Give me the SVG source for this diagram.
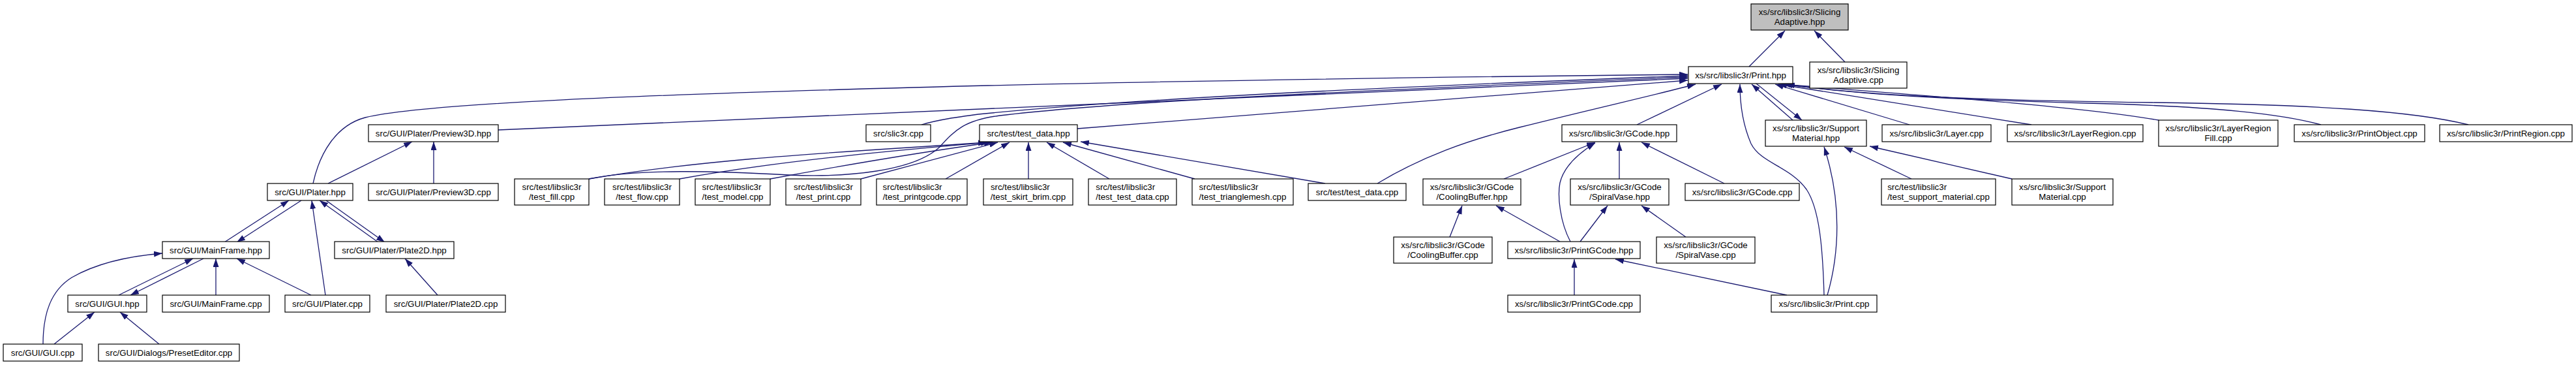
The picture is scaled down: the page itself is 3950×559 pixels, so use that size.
<svg xmlns="http://www.w3.org/2000/svg" width="3950" height="559" viewBox="0 0 3950 559">
<defs>
<style>
.n rect{fill:#ffffff;stroke:#000000;stroke-width:1.2}
.g rect{fill:#bfbfbf}
text{font-family:"Liberation Sans",Arial,sans-serif;font-size:13.3px;fill:#000000;text-anchor:middle}
text.l{text-anchor:start}
.e path{fill:none;stroke:#191970;stroke-width:1.3;marker-end:url(#a)}
</style>
<marker id="a" markerUnits="userSpaceOnUse" markerWidth="14" markerHeight="10" refX="13" refY="4.5" orient="auto">
<path d="M0,0 L13,4.5 L0,9 z" fill="#191970"/>
</marker>
</defs>
<rect width="3950" height="559" fill="#ffffff"/>
<g id="edges" class="e">
<path d="M2682,102 L2737,47"/>
<path d="M2829,95 L2782,47"/>
<path d="M480,281 C490,235 515,192 560,180 C650,158 1000,145 1400,134 S2300,117 2588,114"/>
<path d="M764,199 L2588,120"/>
<path d="M1413,191 C1440,183 1470,179 1500,175 C1700,155 2000,138 2588,116"/>
<path d="M903,274 C980,258 1100,262 1210,268 C1300,272 1400,262 1440,226 C1465,198 1480,184 1533,177 C1700,157 2000,142 2588,118"/>
<path d="M1652,197 L2588,123"/>
<path d="M2112,281 C2180,240 2250,215 2330,195 C2450,165 2540,145 2600,129"/>
<path d="M2510,191 L2640,129"/>
<path d="M2797,452 C2795,380 2790,320 2770,290 C2745,255 2700,250 2685,220 C2672,190 2668,160 2668,129"/>
<path d="M2749,184 L2686,129"/>
<path d="M2693,128 L2763,184"/>
<path d="M2928,191 L2722,129"/>
<path d="M3115,191 L2727,129"/>
<path d="M3310,184 C3200,165 3000,150 2733,129"/>
<path d="M3559,191 C3500,175 3400,163 3200,158 C3000,153 2850,145 2736,129"/>
<path d="M3785,191 C3700,170 3550,160 3300,157 C3000,153 2850,145 2739,129"/>
<path d="M2306,274 L2446,218"/>
<path d="M2408,370 C2392,340 2388,300 2392,280 C2398,255 2420,235 2446,219"/>
<path d="M2483,274 L2483,218"/>
<path d="M2644,281 L2517,218"/>
<path d="M2223,363 L2242,315"/>
<path d="M2392,370 L2294,315"/>
<path d="M2423,370 L2465,315"/>
<path d="M2585,363 L2517,315"/>
<path d="M2414,452 L2414,397"/>
<path d="M2740,452 L2477,397"/>
<path d="M2802,452 C2820,390 2825,310 2797,225"/>
<path d="M2931,274 L2828,225"/>
<path d="M3085,274 L2867,224"/>
<path d="M903,274 C1100,240 1350,230 1513,218"/>
<path d="M1042,274 C1200,245 1400,228 1517,218"/>
<path d="M1181,274 C1300,252 1420,232 1522,218"/>
<path d="M1320,274 L1530,218"/>
<path d="M1450,274 L1548,218"/>
<path d="M1577,274 L1577,218"/>
<path d="M1701,274 L1605,218"/>
<path d="M1832,274 L1630,218"/>
<path d="M2032,281 L1657,217"/>
<path d="M503,281 L632,217"/>
<path d="M665,281 L665,217"/>
<path d="M344,371 L443,307"/>
<path d="M462,307 L363,371"/>
<path d="M499,452 L478,307"/>
<path d="M580,371 L490,307"/>
<path d="M500,307 L590,371"/>
<path d="M671,452 L621,396"/>
<path d="M182,452 L296,396"/>
<path d="M312,396 L200,452"/>
<path d="M331,452 L331,396"/>
<path d="M477,452 L363,396"/>
<path d="M66,527 C66,480 78,445 110,425 C150,402 200,392 249,388"/>
<path d="M83,527 L145,478"/>
<path d="M244,527 L184,478"/>
</g>
<g id="n_slicingadaptive_hpp" class="n g"><rect x="2685" y="6" width="149" height="40"/><text x="2759.5" y="23">xs/src/libslic3r/Slicing</text><text x="2759.5" y="38">Adaptive.hpp</text></g>
<g id="n_print_hpp" class="n"><rect x="2589" y="102" width="160" height="26"/><text x="2669" y="119.5">xs/src/libslic3r/Print.hpp</text></g>
<g id="n_slicingadaptive_cpp" class="n"><rect x="2775" y="95" width="149" height="40"/><text x="2849.5" y="112">xs/src/libslic3r/Slicing</text><text x="2849.5" y="127">Adaptive.cpp</text></g>
<g id="n_preview3d_hpp" class="n"><rect x="565" y="191" width="199" height="26"/><text x="664.5" y="208.5">src/GUI/Plater/Preview3D.hpp</text></g>
<g id="n_slic3r_cpp" class="n"><rect x="1328" y="191" width="99" height="26"/><text x="1377.5" y="208.5">src/slic3r.cpp</text></g>
<g id="n_test_data_hpp" class="n"><rect x="1502" y="191" width="150" height="26"/><text x="1577" y="208.5">src/test/test_data.hpp</text></g>
<g id="n_gcode_hpp" class="n"><rect x="2395" y="191" width="176" height="26"/><text x="2483" y="208.5">xs/src/libslic3r/GCode.hpp</text></g>
<g id="n_supportmaterial_hpp" class="n"><rect x="2707" y="184" width="155" height="40"/><text x="2784.5" y="201">xs/src/libslic3r/Support</text><text x="2784.5" y="216">Material.hpp</text></g>
<g id="n_layer_cpp" class="n"><rect x="2886" y="191" width="167" height="26"/><text x="2969.5" y="208.5">xs/src/libslic3r/Layer.cpp</text></g>
<g id="n_layerregion_cpp" class="n"><rect x="3078" y="191" width="208" height="26"/><text x="3182" y="208.5">xs/src/libslic3r/LayerRegion.cpp</text></g>
<g id="n_layerregionfill_cpp" class="n"><rect x="3310" y="184" width="183" height="40"/><text x="3401.5" y="201">xs/src/libslic3r/LayerRegion</text><text x="3401.5" y="216">Fill.cpp</text></g>
<g id="n_printobject_cpp" class="n"><rect x="3518" y="191" width="200" height="26"/><text x="3618" y="208.5">xs/src/libslic3r/PrintObject.cpp</text></g>
<g id="n_printregion_cpp" class="n"><rect x="3741" y="191" width="203" height="26"/><text x="3842.5" y="208.5">xs/src/libslic3r/PrintRegion.cpp</text></g>
<g id="n_plater_hpp" class="n"><rect x="410" y="281" width="131" height="26"/><text x="475.5" y="298.5">src/GUI/Plater.hpp</text></g>
<g id="n_preview3d_cpp" class="n"><rect x="565" y="281" width="199" height="26"/><text x="664.5" y="298.5">src/GUI/Plater/Preview3D.cpp</text></g>
<g id="n_test_fill_cpp" class="n"><rect x="789" y="274" width="114" height="40"/><text x="846" y="291">src/test/libslic3r</text><text x="846" y="306">/test_fill.cpp</text></g>
<g id="n_test_flow_cpp" class="n"><rect x="927" y="274" width="115" height="40"/><text x="984.5" y="291">src/test/libslic3r</text><text x="984.5" y="306">/test_flow.cpp</text></g>
<g id="n_test_model_cpp" class="n"><rect x="1066" y="274" width="115" height="40"/><text class="l" x="1076.5" y="291">src/test/libslic3r</text><text x="1123.5" y="306">/test_model.cpp</text></g>
<g id="n_test_print_cpp" class="n"><rect x="1205" y="274" width="115" height="40"/><text x="1262.5" y="291">src/test/libslic3r</text><text x="1262.5" y="306">/test_print.cpp</text></g>
<g id="n_test_printgcode_cpp" class="n"><rect x="1344" y="274" width="139" height="40"/><text class="l" x="1353.6" y="291">src/test/libslic3r</text><text x="1413.5" y="306">/test_printgcode.cpp</text></g>
<g id="n_test_skirt_brim_cpp" class="n"><rect x="1508" y="274" width="137" height="40"/><text class="l" x="1518.9" y="291">src/test/libslic3r</text><text x="1576.5" y="306">/test_skirt_brim.cpp</text></g>
<g id="n_test_test_data_cpp" class="n"><rect x="1669" y="274" width="135" height="40"/><text class="l" x="1680.3" y="291">src/test/libslic3r</text><text x="1736.5" y="306">/test_test_data.cpp</text></g>
<g id="n_test_trianglemesh_cpp" class="n"><rect x="1828" y="274" width="155" height="40"/><text class="l" x="1838.6" y="291">src/test/libslic3r</text><text x="1905.5" y="306">/test_trianglemesh.cpp</text></g>
<g id="n_test_data_cpp" class="n"><rect x="2006" y="281" width="150" height="26"/><text x="2081" y="298.5">src/test/test_data.cpp</text></g>
<g id="n_coolingbuffer_hpp" class="n"><rect x="2182" y="274" width="150" height="40"/><text x="2257" y="291">xs/src/libslic3r/GCode</text><text x="2257" y="306">/CoolingBuffer.hpp</text></g>
<g id="n_spiralvase_hpp" class="n"><rect x="2408" y="274" width="151" height="40"/><text x="2483.5" y="291">xs/src/libslic3r/GCode</text><text x="2483.5" y="306">/SpiralVase.hpp</text></g>
<g id="n_gcode_cpp" class="n"><rect x="2584" y="281" width="175" height="26"/><text x="2671.5" y="298.5">xs/src/libslic3r/GCode.cpp</text></g>
<g id="n_test_support_material_cpp" class="n"><rect x="2885" y="274" width="175" height="40"/><text class="l" x="2894.2" y="291">src/test/libslic3r</text><text x="2972.5" y="306">/test_support_material.cpp</text></g>
<g id="n_supportmaterial_cpp" class="n"><rect x="3085" y="274" width="155" height="40"/><text x="3162.5" y="291">xs/src/libslic3r/Support</text><text x="3162.5" y="306">Material.cpp</text></g>
<g id="n_mainframe_hpp" class="n"><rect x="249" y="370" width="164" height="26"/><text x="331" y="387.5">src/GUI/MainFrame.hpp</text></g>
<g id="n_plate2d_hpp" class="n"><rect x="513" y="370" width="183" height="26"/><text x="604.5" y="387.5">src/GUI/Plater/Plate2D.hpp</text></g>
<g id="n_coolingbuffer_cpp" class="n"><rect x="2137" y="363" width="151" height="40"/><text x="2212.5" y="380">xs/src/libslic3r/GCode</text><text x="2212.5" y="395">/CoolingBuffer.cpp</text></g>
<g id="n_printgcode_hpp" class="n"><rect x="2312" y="370" width="203" height="26"/><text x="2413.5" y="387.5">xs/src/libslic3r/PrintGCode.hpp</text></g>
<g id="n_spiralvase_cpp" class="n"><rect x="2540" y="363" width="151" height="40"/><text x="2615.5" y="380">xs/src/libslic3r/GCode</text><text x="2615.5" y="395">/SpiralVase.cpp</text></g>
<g id="n_gui_hpp" class="n"><rect x="104" y="452" width="121" height="26"/><text x="164.5" y="469.5">src/GUI/GUI.hpp</text></g>
<g id="n_mainframe_cpp" class="n"><rect x="249" y="452" width="164" height="26"/><text x="331" y="469.5">src/GUI/MainFrame.cpp</text></g>
<g id="n_plater_cpp" class="n"><rect x="437" y="452" width="130" height="26"/><text x="502" y="469.5">src/GUI/Plater.cpp</text></g>
<g id="n_plate2d_cpp" class="n"><rect x="592" y="452" width="183" height="26"/><text x="683.5" y="469.5">src/GUI/Plater/Plate2D.cpp</text></g>
<g id="n_printgcode_cpp" class="n"><rect x="2312" y="452" width="203" height="26"/><text x="2413.5" y="469.5">xs/src/libslic3r/PrintGCode.cpp</text></g>
<g id="n_print_cpp" class="n"><rect x="2716" y="452" width="162" height="26"/><text x="2797" y="469.5">xs/src/libslic3r/Print.cpp</text></g>
<g id="n_gui_cpp" class="n"><rect x="5" y="527" width="121" height="26"/><text x="65.5" y="544.5">src/GUI/GUI.cpp</text></g>
<g id="n_preseteditor_cpp" class="n"><rect x="151" y="527" width="216" height="26"/><text x="259" y="544.5">src/GUI/Dialogs/PresetEditor.cpp</text></g>
</svg>
